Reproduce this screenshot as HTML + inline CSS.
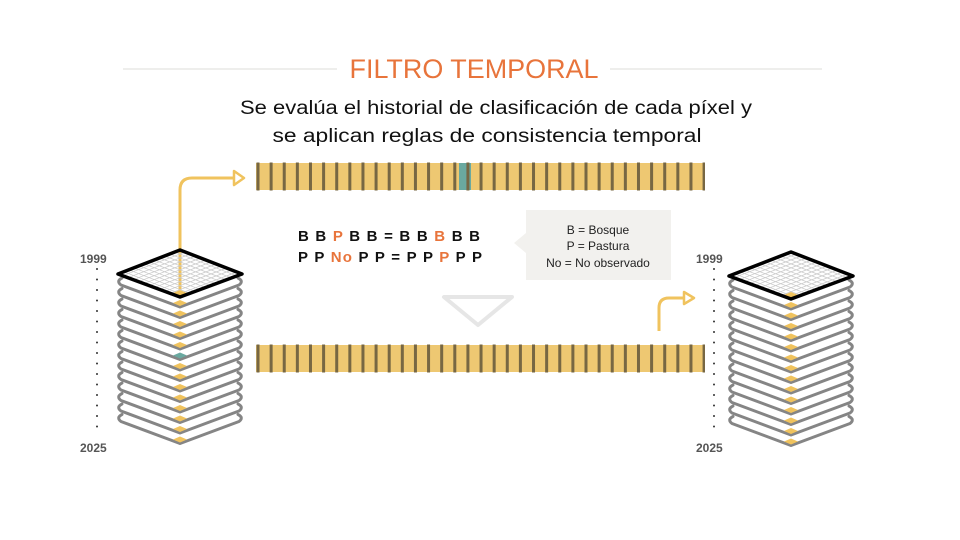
<!DOCTYPE html>
<html><head><meta charset="utf-8"><style>html,body{margin:0;padding:0;background:#fff}svg{display:block}</style></head>
<body>
<svg width="960" height="540" viewBox="0 0 960 540" xmlns="http://www.w3.org/2000/svg" font-family="'Liberation Sans', sans-serif">
<defs>
<path id="ch" d="M122,-29 Q116,-26 121,-22 L180,0 L239,-22 Q244,-26 238,-29" fill="none" stroke="#858585" stroke-width="3" stroke-linecap="round" stroke-linejoin="round"/>
<path id="mk" d="M180,-1 L173,-4 L180,-7 L187,-4Z" fill="#f0c35e"/>
<g id="stack">
 <use href="#ch" y="307"/><use href="#mk" y="307"/>
 <use href="#ch" y="317.5"/><use href="#mk" y="317.5"/>
 <use href="#ch" y="328"/><use href="#mk" y="328"/>
 <use href="#ch" y="338.5"/><use href="#mk" y="338.5"/>
 <use href="#ch" y="349"/><use href="#mk" y="349"/>
 <use href="#ch" y="359.5"/>
 <use href="#ch" y="370"/><use href="#mk" y="370"/>
 <use href="#ch" y="380.5"/><use href="#mk" y="380.5"/>
 <use href="#ch" y="391"/><use href="#mk" y="391"/>
 <use href="#ch" y="401.5"/><use href="#mk" y="401.5"/>
 <use href="#ch" y="412"/><use href="#mk" y="412"/>
 <use href="#ch" y="422.5"/><use href="#mk" y="422.5"/>
 <use href="#ch" y="433"/><use href="#mk" y="433"/>
 <use href="#ch" y="443.5"/><use href="#mk" y="443.5"/>
 <g transform="matrix(5.17,2,-5.17,1.96,180,250)">
  <path d="M1,0V12M2,0V12M3,0V12M4,0V12M5,0V12M6,0V12M7,0V12M8,0V12M9,0V12M10,0V12M11,0V12M0,1H12M0,2H12M0,3H12M0,4H12M0,5H12M0,6H12M0,7H12M0,8H12M0,9H12M0,10H12M0,11H12" stroke="#c8c8c8" stroke-width="0.7" vector-effect="non-scaling-stroke" fill="none"/>
 </g>
 <use href="#mk" y="297"/>
 <path d="M180,250 L242,274 L180,297 L118,274Z" fill="none" stroke="#000" stroke-width="3.5" stroke-linejoin="round"/>
</g>
<g id="dots" fill="#333">
 <circle cx="0" cy="269" r="1"/><circle cx="0" cy="279.5" r="1"/><circle cx="0" cy="290" r="1"/><circle cx="0" cy="300.5" r="1"/><circle cx="0" cy="311" r="1"/><circle cx="0" cy="321.5" r="1"/><circle cx="0" cy="332" r="1"/><circle cx="0" cy="342.5" r="1"/><circle cx="0" cy="353" r="1"/><circle cx="0" cy="363.5" r="1"/><circle cx="0" cy="374" r="1"/><circle cx="0" cy="384.5" r="1"/><circle cx="0" cy="395" r="1"/><circle cx="0" cy="405.5" r="1"/><circle cx="0" cy="416" r="1"/><circle cx="0" cy="426.5" r="1"/>
</g>
</defs>

<line x1="123" y1="69" x2="337" y2="69" stroke="#eeeeec" stroke-width="2"/>
<line x1="610" y1="69" x2="822" y2="69" stroke="#eeeeec" stroke-width="2"/>
<text x="474" y="78" text-anchor="middle" font-size="27" fill="#e8743b" textLength="249" lengthAdjust="spacingAndGlyphs">FILTRO TEMPORAL</text>
<text x="496" y="114" text-anchor="middle" font-size="19" fill="#111" textLength="512" lengthAdjust="spacingAndGlyphs">Se evalúa el historial de clasificación de cada píxel y</text>
<text x="487" y="142" text-anchor="middle" font-size="19" fill="#111" textLength="429" lengthAdjust="spacingAndGlyphs">se aplican reglas de consistencia temporal</text>

<!-- bars -->
<rect x="256" y="163" width="447" height="27" fill="#eec872"/>
<rect x="459" y="163" width="12" height="27" fill="#6aa9a0"/>
<line x1="256.5" y1="176.5" x2="705" y2="176.5" stroke="#776743" stroke-width="28" stroke-dasharray="3 10.12"/>
<rect x="256" y="345" width="447" height="27" fill="#eec872"/>
<line x1="256.5" y1="358.5" x2="705" y2="358.5" stroke="#776743" stroke-width="28" stroke-dasharray="3 10.12"/>

<!-- arrows -->
<path d="M180,290 V190 Q180,178 192,178 H233" fill="none" stroke="#f0c35e" stroke-width="3"/>
<path d="M234,171 L244,178 L234,185Z" fill="#fff" stroke="#f0c35e" stroke-width="2.5" stroke-linejoin="round"/>
<path d="M659,331 V308 Q659,298 669,298 H683" fill="none" stroke="#f0c35e" stroke-width="3"/>
<path d="M684,292 L694,298 L684,304Z" fill="#fff" stroke="#f0c35e" stroke-width="2.5" stroke-linejoin="round"/>

<!-- down triangle -->
<path d="M444,297 L512,297 L478,325Z" fill="none" stroke="#e6e6e6" stroke-width="4" stroke-linejoin="round"/>

<!-- codes -->
<text x="298" y="241" font-size="15" font-weight="bold" fill="#111" xml:space="preserve" textLength="182" lengthAdjust="spacing">B B <tspan fill="#e8743b">P</tspan> B B = B B <tspan fill="#e8743b">B</tspan> B B</text>
<text x="298" y="262" font-size="15" font-weight="bold" fill="#111" xml:space="preserve" textLength="184" lengthAdjust="spacing">P P <tspan fill="#e8743b">No</tspan> P P = P P <tspan fill="#e8743b">P</tspan> P P</text>

<!-- legend -->
<path d="M526,210 H671 V280 H526 V253 L514,243 L526,233Z" fill="#f2f1ee"/>
<text x="598" y="234" text-anchor="middle" font-size="12" fill="#222">B = Bosque</text>
<text x="598" y="250" text-anchor="middle" font-size="12" fill="#222">P = Pastura</text>
<text x="598" y="267" text-anchor="middle" font-size="12" fill="#222">No = No observado</text>

<!-- stacks -->
<use href="#stack"/>
<path d="M0,-1 L-7,-4 L0,-7 L7,-4Z" fill="#6aa9a0" transform="translate(180,359.5)"/>
<use href="#stack" x="611" y="2"/>
<path d="M0,-1 L-7,-4 L0,-7 L7,-4Z" fill="#f0c35e" transform="translate(791,361.5)"/>

<use href="#dots" x="97"/>
<use href="#dots" x="714"/>
<g font-size="12" font-weight="bold" fill="#555">
<text x="80" y="263">1999</text>
<text x="80" y="452">2025</text>
<text x="696" y="263">1999</text>
<text x="696" y="452">2025</text>
</g>
</svg>
</body></html>
